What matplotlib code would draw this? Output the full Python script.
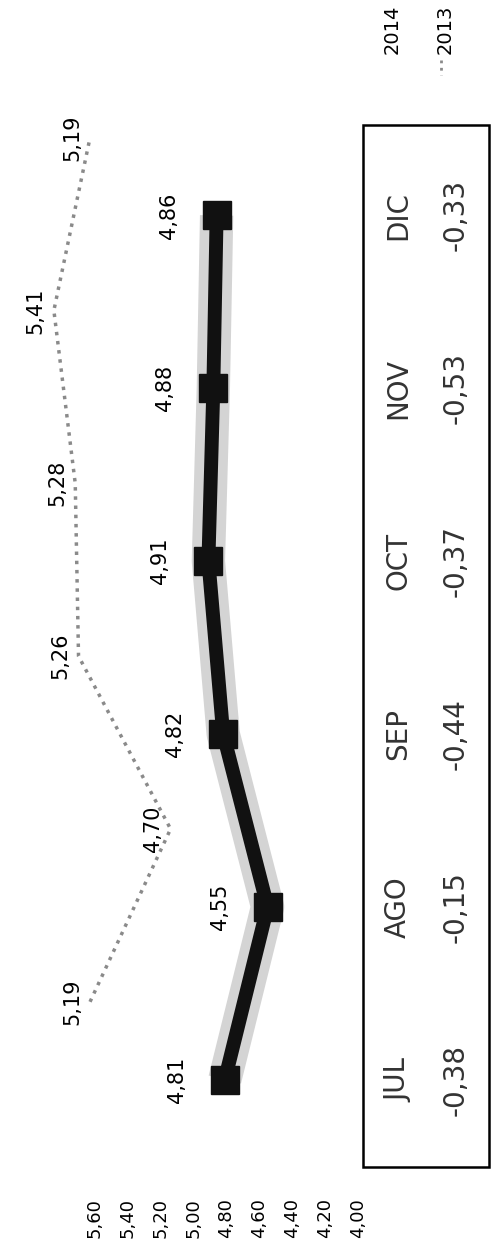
import numpy as np
import matplotlib.pyplot as plt
import matplotlib.transforms as mtransforms
from matplotlib.patches import Rectangle
from matplotlib.lines import Line2D

months = ['JUL', 'AGO', 'SEP', 'OCT', 'NOV', 'DIC']
vals_2014 = [4.81, 4.55, 4.82, 4.91, 4.88, 4.86]
vals_2013 = [5.19, 4.70, 5.26, 5.28, 5.41, 5.19]
diffs = [-0.38, -0.15, -0.44, -0.37, -0.53, -0.33]
ticks = [4.0, 4.2, 4.4, 4.6, 4.8, 5.0, 5.2, 5.4, 5.6]

def coma(v):
    return f'{v:.2f}'.replace('.', ',')

W, H = 493, 1252
fig = plt.figure(figsize=(W / 100, H / 100), dpi=100)
fx = lambda px: px / W
fy = lambda py: 1 - py / H

# whole chart is turned 90 degrees: values run right->left, months bottom->top
ax = fig.add_axes([fx(29.2), fy(1166), (358 - 29.2) / W, (1166 - 129) / H])
pos = np.arange(len(months))
ax.set_xlim(6.0, 4.0)
ax.set_ylim(-0.5, 5.5)

ax.plot(vals_2014, pos, color='#d4d4d4', lw=24, solid_capstyle='butt', zorder=1)
ax.plot(vals_2014, pos, color='#111111', lw=10, marker='s', ms=20, zorder=3)
for v, p in zip(vals_2014, pos):
    ax.annotate(coma(v), (v, p), xytext=(-48, 0), textcoords='offset pixels',
                rotation=90, ha='center', va='center', fontsize=15,
                annotation_clip=False)

# 2013 on a hidden secondary value axis
ax2 = ax.twiny()
ax2.set_xlim(5.56, 3.56)
ax2.plot(vals_2013, pos + 0.45, color='#8a8a8a', lw=2.5, ls=':', zorder=2)
for v, p in zip(vals_2013, pos):
    ax2.annotate(coma(v), (v, p + 0.45), xytext=(-18, 0), textcoords='offset pixels',
                 rotation=90, ha='center', va='center', fontsize=15,
                 annotation_clip=False)
ax2.axis('off')

ax.set_xticks(ticks)
ax.set_xticklabels([coma(t) for t in ticks], rotation=90)
ax.tick_params(axis='x', length=0, pad=23, labelsize=13)
ax.set_yticks([])
for s in ax.spines.values():
    s.set_visible(False)

# data table
fig.add_artist(Rectangle((fx(363), fy(1167)), (489 - 363) / W, (1167 - 125) / H,
                         transform=fig.transFigure, fill=False, lw=1.8, ec='black'))
tr = mtransforms.blended_transform_factory(fig.transFigure, ax.transData)
for m, d, p in zip(months, diffs, pos):
    ax.text(fx(398), p, m, transform=tr, rotation=90, ha='center', va='center',
            fontsize=20, color='#333333')
    ax.text(fx(456), p, coma(d), transform=tr, rotation=90, ha='center', va='center',
            fontsize=20, color='#333333')

# legend
fig.text(fx(392), fy(54), '2014', rotation=90, ha='center', va='bottom', fontsize=14)
fig.text(fx(445), fy(54), '2013', rotation=90, ha='center', va='bottom', fontsize=14)
fig.add_artist(Line2D([fx(441), fx(441)], [fy(60), fy(75)], ls=':', lw=2,
                      color='#8a8a8a', transform=fig.transFigure))

fig.savefig('out.png', dpi=100)
